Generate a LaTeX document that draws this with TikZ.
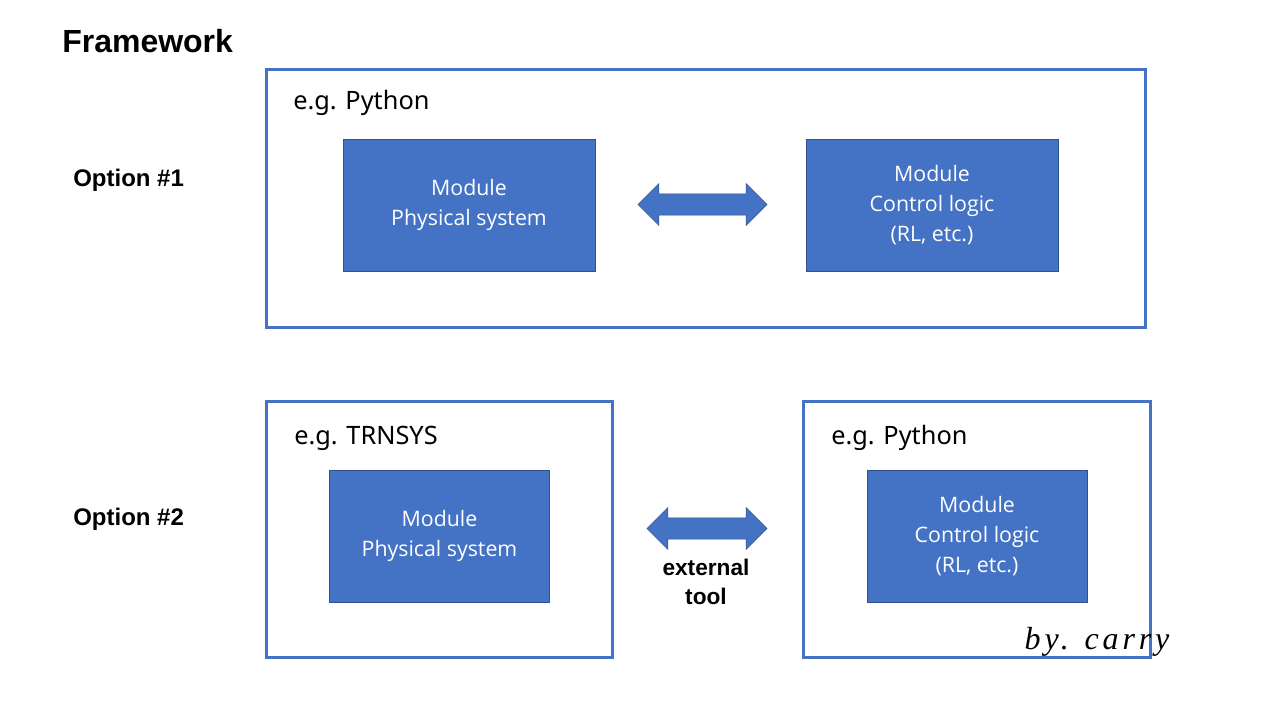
\documentclass[tikz,border=0pt]{standalone}
\usepackage{fontspec}
\setmainfont{Liberation Sans}
\newfontfamily\egfont{Noto Sans}
\newfontfamily\modfont{Open Sans}
\newfontfamily\handfont{Liberation Serif}[LetterSpace=12]
\usetikzlibrary{shapes.arrows}
\definecolor{boxblue}{HTML}{4472C4}
\definecolor{edgeblue}{HTML}{2F528F}
\begin{document}
\begin{tikzpicture}[x=0.75pt,y=-0.75pt,
	frame/.style={draw=boxblue,line width=2.25pt},
	module/.style={draw=edgeblue,line width=0.6pt,fill=boxblue,text=white,align=center,minimum height=99pt,font=\modfont\fontsize{16}{22.5}\selectfont},
	link/.style={double arrow,draw=edgeblue,line width=0.4pt,fill=boxblue,inner xsep=0pt,inner ysep=7.7pt,double arrow head extend=7.8pt},
	title/.style={font=\bfseries\fontsize{18}{22}\selectfont,anchor=west,inner sep=0pt},
	envname/.style={font=\egfont\fontsize{19}{23}\selectfont,anchor=west,inner sep=0pt}]
	\useasboundingbox (0,0) rectangle (1280,720);
	\fill[white] (0,0) rectangle (1280,720);
	% frames
	\draw[frame] (266,70) rectangle (1145,327);
	\draw[frame] (266,401) rectangle (612,657);
	\draw[frame] (803,401) rectangle (1150,657);
	% labels
	\node[title,font=\bfseries\fontsize{24}{28}\selectfont] (framework) at (62,41) {Framework};
	\node[title] (opt1) at (73,180) {Option \#1};
	\node[title] (opt2) at (73,519) {Option \#2};
	\node[envname] (env1) at (293,103) {e.g. Python};
	\node[envname] (env2) at (294,438) {e.g. TRNSYS};
	\node[envname] (env3) at (831,438) {e.g. Python};
	% option 1
	\node[module,minimum width=189pt] (phys1) at (469,205) {Module\\Physical system};
	\node[module,minimum width=189pt] (ctrl1) at (932,205) {Module\\Control logic\\(RL, etc.)};
	\node[link,minimum height=96.75pt] (arr1) at (702.5,204.5) {};
	% option 2
	\node[module,minimum width=165pt] (phys2) at (439.5,536) {Module\\Physical system};
	\node[module,minimum width=165pt] (ctrl2) at (977,536) {Module\\Control logic\\(RL, etc.)};
	\node[link,minimum height=90pt] (arr2) at (707,528.5) {};
	\node[font=\bfseries\fontsize{17}{21.75}\selectfont,align=center] (tool) at (706,582) {external\\tool};
	\node[font=\handfont\itshape\fontsize{24}{28}\selectfont] (sign) at (1097,642) {by. carry};
\end{tikzpicture}
\end{document}
